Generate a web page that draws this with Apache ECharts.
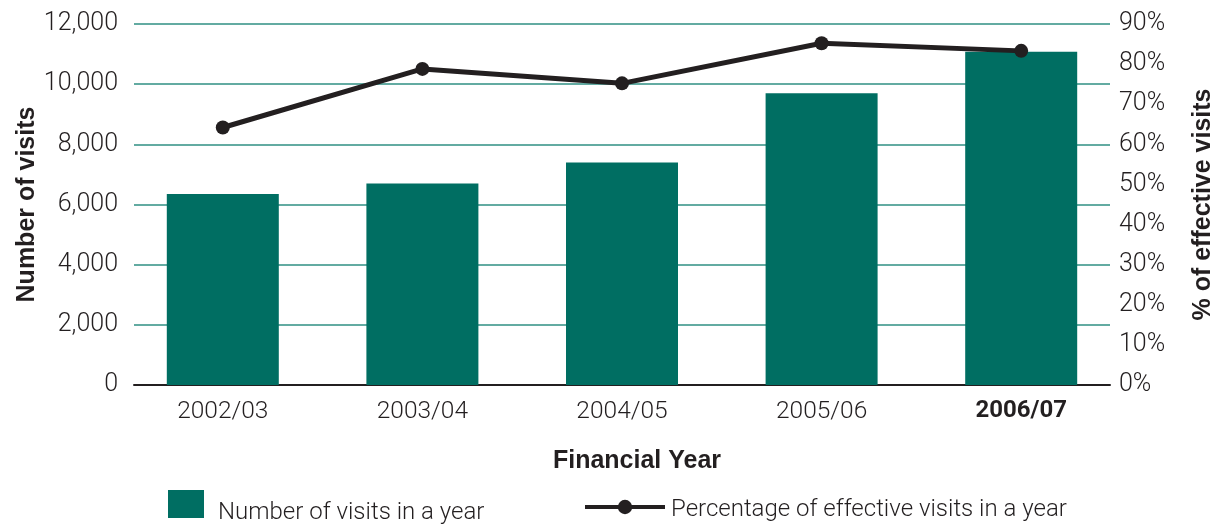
<!DOCTYPE html>
<html>
<head>
<meta charset="utf-8">
<script src="https://cdn.jsdelivr.net/npm/echarts@6/dist/echarts.min.js"></script>
<style>
  html, body { margin: 0; padding: 0; background: #fff; overflow: hidden; }
  #chart { width: 1221px; height: 524px; }
</style>
</head>
<body>
<div id="chart"></div>
<script>
var years = ['2002/03', '2003/04', '2004/05', '2005/06', '2006/07']
var visits = [6350, 6700, 7400, 9700, 11080]
var effectivePct = [64.2, 78.8, 75.2, 85.2, 83.3]
var visitTicks = { min: 0, max: 12000, interval: 2000 }
var pctTicks = { min: 0, max: 90, interval: 10 }

var teal = '#006e62'
var ink = '#231f20'
var font = 'Roboto, "Liberation Sans", sans-serif'
var boldFont = '"Liberation Sans", Arial, sans-serif'

var chart = echarts.init(document.getElementById('chart'))

// legend text is nudged down with a padded rich token
function legendText (pad) {
  return {
    formatter: function (name) { return '{t|' + name + '}' },
    textStyle: {
      rich: {
        t: { color: ink, fontSize: 24, fontWeight: 300, fontFamily: font, padding: [pad, 0, 0, 0] }
      }
    }
  }
}

var barLegend = legendText(17)
var lineLegend = legendText(6)

var option = {
  backgroundColor: '#ffffff',
  textStyle: { fontFamily: font },
  grid: [
    // frame grid: axis lines, split lines, y labels
    { left: 134, right: 111, top: 24, bottom: 139, outerBoundsMode: 'none' },
    // data grid: bars and line
    { left: 123, right: 100, top: 24, bottom: 139, outerBoundsMode: 'none' }
  ],
  xAxis: [
    {
      type: 'category',
      gridIndex: 0,
      data: years,
      axisLine: { lineStyle: { color: ink, width: 2 } },
      axisTick: { show: false },
      axisLabel: { show: false },
      name: 'Financial Year',
      nameLocation: 'middle',
      nameGap: 64,
      nameMoveOverlap: false,
      nameTextStyle: {
        color: ink, fontSize: 25, fontWeight: 'bold', fontFamily: boldFont,
        padding: [0, 0, 0, 30]
      }
    },
    {
      type: 'category',
      gridIndex: 1,
      data: years,
      axisLine: { show: false },
      axisTick: { show: false },
      axisLabel: {
        color: ink,
        fontSize: 24.5,
        fontWeight: 300,
        margin: 14,
        formatter: function (v, i) {
          return i === years.length - 1 ? '{b|' + v + '}' : v
        },
        rich: { b: { fontWeight: 'bold', fontSize: 24, color: ink } }
      }
    }
  ],
  yAxis: [
    {
      type: 'value',
      gridIndex: 0,
      min: visitTicks.min,
      max: visitTicks.max,
      interval: visitTicks.interval,
      axisLine: { show: false },
      axisTick: { show: false },
      splitLine: { lineStyle: { color: '#2f8f83', width: 1.5 } },
      axisLabel: {
        color: ink,
        fontSize: 25,
        fontWeight: 300,
        margin: 16,
        formatter: function (v) { return v.toLocaleString('en-US') }
      },
      name: 'Number of visits',
      nameLocation: 'middle',
      nameRotate: 90,
      nameGap: 94,
      nameMoveOverlap: false,
      nameTextStyle: { color: ink, fontSize: 25, fontWeight: 'bold', fontFamily: boldFont }
    },
    {
      type: 'value',
      gridIndex: 0,
      position: 'right',
      min: pctTicks.min,
      max: pctTicks.max,
      interval: pctTicks.interval,
      axisLine: { show: false },
      axisTick: { show: false },
      splitLine: { show: false },
      axisLabel: {
        color: ink,
        fontSize: 25,
        fontWeight: 300,
        margin: 9,
        formatter: '{value}%'
      },
      name: '% of effective visits',
      nameLocation: 'middle',
      nameRotate: 90,
      nameGap: 81,
      nameMoveOverlap: false,
      nameTextStyle: { color: ink, fontSize: 25, fontWeight: 'bold', fontFamily: boldFont }
    },
    {
      type: 'value',
      gridIndex: 1,
      min: visitTicks.min,
      max: visitTicks.max,
      show: false
    },
    {
      type: 'value',
      gridIndex: 1,
      min: pctTicks.min,
      max: pctTicks.max,
      show: false
    }
  ],
  legend: [
    {
      data: ['Number of visits in a year'],
      left: 168,
      top: 490,
      padding: 0,
      itemWidth: 36,
      itemHeight: 28,
      itemGap: 0,
      icon: 'rect',
      formatter: barLegend.formatter,
      textStyle: { padding: [0, 0, 0, 9], rich: barLegend.textStyle.rich }
    },
    {
      data: ['Percentage of effective visits in a year'],
      left: 583,
      top: 498,
      padding: 0,
      itemWidth: 80,
      itemHeight: 18,
      lineStyle: { width: 4 },
      formatter: lineLegend.formatter,
      textStyle: { padding: [0, 0, 0, 1], rich: lineLegend.textStyle.rich }
    }
  ],
  series: [
    {
      name: 'Number of visits in a year',
      type: 'bar',
      xAxisIndex: 1,
      yAxisIndex: 2,
      barWidth: 112,
      itemStyle: { color: teal },
      data: visits
    },
    {
      name: 'Percentage of effective visits in a year',
      type: 'line',
      xAxisIndex: 1,
      yAxisIndex: 3,
      symbol: 'circle',
      symbolSize: 14,
      lineStyle: { color: ink, width: 5 },
      itemStyle: { color: ink },
      data: effectivePct
    }
  ]
}

chart.setOption(option)
</script>
</body>
</html>
